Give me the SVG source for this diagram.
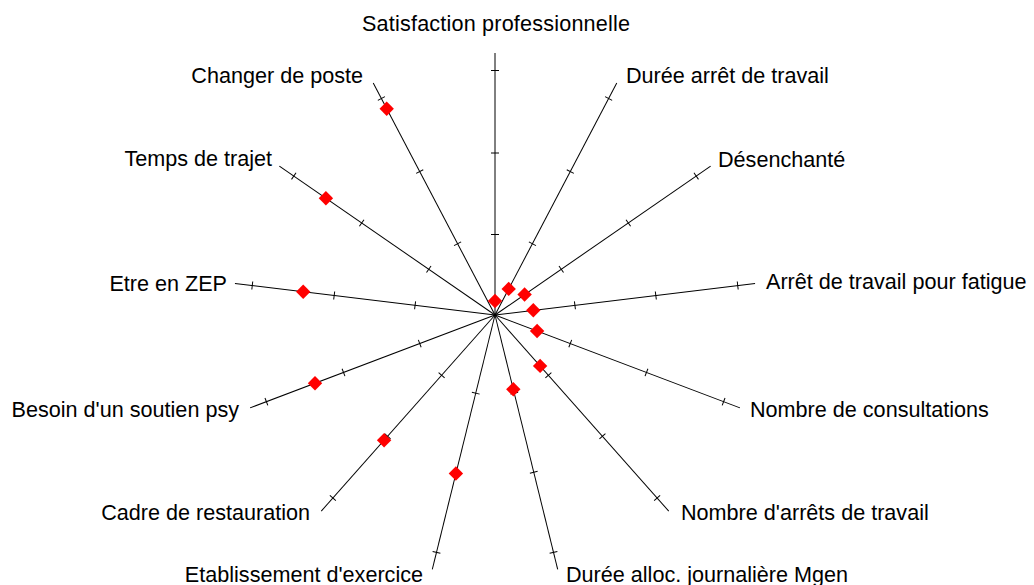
<svg xmlns="http://www.w3.org/2000/svg" xmlns:xlink="http://www.w3.org/1999/xlink" width="1034" height="585" viewBox="0 0 1034 585">
<style>
.ax{stroke:#000;stroke-width:1;fill:none}
.lbl{font-family:"Liberation Sans",Arial,sans-serif;font-size:21.6px;fill:#000}
.pt{fill:#ff0000}
</style>
<defs>
<g id="axis">
<line class="ax" x1="495" y1="315" x2="495" y2="53"/>
<line class="ax" x1="491" y1="234.5" x2="499" y2="234.5"/>
<line class="ax" x1="491" y1="153" x2="499" y2="153"/>
<line class="ax" x1="491" y1="70.5" x2="499" y2="70.5"/>
</g>
<path id="dia" d="M0,-7.2 L7.2,0 L0,7.2 L-7.2,0Z"/>
</defs>
<rect width="1034" height="585" fill="#fff"/>
<g id="connectors">
<use xlink:href="#axis" href="#axis"/>
<use xlink:href="#axis" href="#axis" transform="rotate(27.692 495 315)"/>
<use xlink:href="#axis" href="#axis" transform="rotate(55.385 495 315)"/>
<use xlink:href="#axis" href="#axis" transform="rotate(83.077 495 315)"/>
<use xlink:href="#axis" href="#axis" transform="rotate(110.769 495 315)"/>
<use xlink:href="#axis" href="#axis" transform="rotate(138.462 495 315)"/>
<use xlink:href="#axis" href="#axis" transform="rotate(166.154 495 315)"/>
<use xlink:href="#axis" href="#axis" transform="rotate(193.846 495 315)"/>
<use xlink:href="#axis" href="#axis" transform="rotate(221.538 495 315)"/>
<use xlink:href="#axis" href="#axis" transform="rotate(249.231 495 315)"/>
<use xlink:href="#axis" href="#axis" transform="rotate(276.923 495 315)"/>
<use xlink:href="#axis" href="#axis" transform="rotate(304.615 495 315)"/>
<use xlink:href="#axis" href="#axis" transform="rotate(332.308 495 315)"/>
</g>
<g id="points" class="pt">
<use xlink:href="#dia" href="#dia" x="495" y="301"/>
<use xlink:href="#dia" href="#dia" x="508.7" y="288.9"/>
<use xlink:href="#dia" href="#dia" x="524.6" y="294.5"/>
<use xlink:href="#dia" href="#dia" x="533.3" y="310.3"/>
<use xlink:href="#dia" href="#dia" x="537.1" y="331"/>
<use xlink:href="#dia" href="#dia" x="540.1" y="365.9"/>
<use xlink:href="#dia" href="#dia" x="513.3" y="389.3"/>
<use xlink:href="#dia" href="#dia" x="455.9" y="473.5"/>
<use xlink:href="#dia" href="#dia" x="384.1" y="440.2"/>
<use xlink:href="#dia" href="#dia" x="315" y="383.3"/>
<use xlink:href="#dia" href="#dia" x="303.2" y="291.7"/>
<use xlink:href="#dia" href="#dia" x="325.9" y="198.3"/>
<use xlink:href="#dia" href="#dia" x="386.7" y="108.7"/>
</g>
<g id="n-satisfaction"><text class="lbl" x="362" y="31" textLength="268" lengthAdjust="spacing">Satisfaction professionnelle</text></g>
<g id="n-duree-arret"><text class="lbl" x="626" y="83">Durée arrêt de travail</text></g>
<g id="n-desenchante"><text class="lbl" x="718" y="167">Désenchanté</text></g>
<g id="n-arret-fatigue"><text class="lbl" x="766" y="289">Arrêt de travail pour fatigue</text></g>
<g id="n-consultations"><text class="lbl" x="750" y="417">Nombre de consultations</text></g>
<g id="n-nb-arrets"><text class="lbl" x="681" y="520">Nombre d'arrêts de travail</text></g>
<g id="n-duree-alloc"><text class="lbl" x="566" y="582">Durée alloc. journalière Mgen</text></g>
<g id="n-etablissement"><text class="lbl" x="423" y="582" text-anchor="end">Etablissement d'exercice</text></g>
<g id="n-cadre"><text class="lbl" x="310" y="520" text-anchor="end">Cadre de restauration</text></g>
<g id="n-besoin"><text class="lbl" x="239" y="417" text-anchor="end">Besoin d'un soutien psy</text></g>
<g id="n-zep"><text class="lbl" x="227" y="291" text-anchor="end">Etre en ZEP</text></g>
<g id="n-trajet"><text class="lbl" x="272" y="166" text-anchor="end">Temps de trajet</text></g>
<g id="n-changer"><text class="lbl" x="363" y="83" text-anchor="end">Changer de poste</text></g>
</svg>
